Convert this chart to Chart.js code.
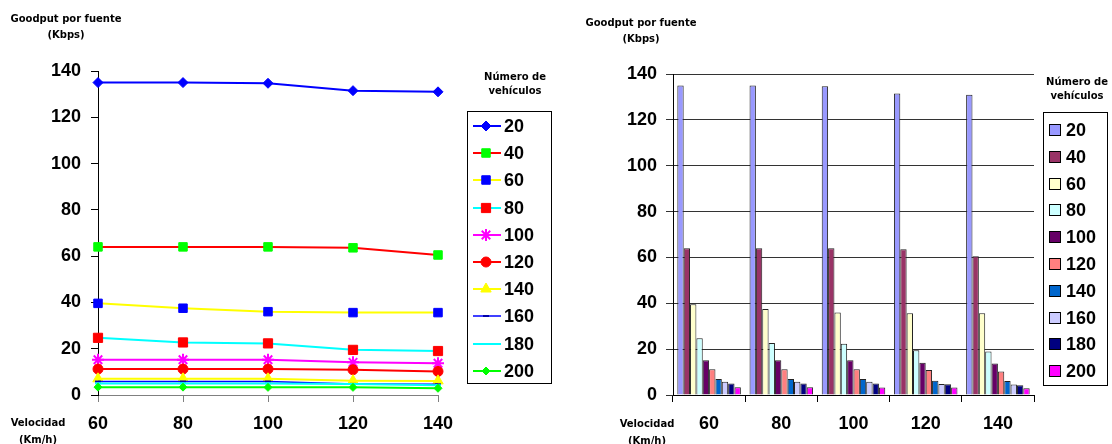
<!DOCTYPE html>
<html>
<head>
<meta charset="utf-8">
<title>Goodput por fuente</title>
<script src="https://cdn.jsdelivr.net/npm/chart.js"></script>
<style>
  body { margin: 0; background: #fff; }
  #wrap { position: relative; width: 1112px; height: 444px; overflow: hidden; }
  canvas { position: absolute; top: 0; }
  .lbl { position: absolute; width: 160px; text-align: center; color: #000;
         font: bold 10px "DejaVu Sans", Verdana, sans-serif; white-space: nowrap; }
</style>
</head>
<body>
<div id="wrap">
  <canvas id="lineChart" width="556" height="444" style="left:0"></canvas>
  <canvas id="barChart" width="556" height="444" style="left:556px"></canvas>

  <div class="lbl" style="left:-14px;top:11px;line-height:16px">Goodput por fuente<br>(Kbps)</div>
  <div class="lbl" style="left:435px;top:70px;line-height:14px">Número de<br>vehículos</div>
  <div class="lbl" style="left:-42px;top:414px;line-height:17px">Velocidad<br>(Km/h)</div>

  <div class="lbl" style="left:561px;top:15px;line-height:16px">Goodput por fuente<br>(Kbps)</div>
  <div class="lbl" style="left:997px;top:75px;line-height:14px">Número de<br>vehículos</div>
  <div class="lbl" style="left:567px;top:415px;line-height:17px">Velocidad<br>(Km/h)</div>
</div>

<script>
  // velocidad (Km/h) on the x axis, one series per number of vehicles
  const velocidades = ["60", "80", "100", "120", "140"];
  const vehiculos = ["20", "40", "60", "80", "100", "120", "140", "160", "180", "200"];

  // goodput per source (Kbps)
  const g20  = [135, 135, 134.7, 131.5, 131];
  const g40  = [64, 64, 64, 63.6, 60.5];
  const g60  = [39.6, 37.5, 36, 35.6, 35.6];
  const g80  = [24.7, 22.7, 22.3, 19.5, 19];
  const g100 = [15.2, 15.2, 15.2, 14.1, 13.7];
  const g120 = [11.2, 11.2, 11.2, 10.9, 10.2];
  const g140 = [7, 7, 7, 6.2, 6.1];
  const g160 = [5.8, 5.8, 5.8, 4.8, 4.6];
  const g180 = [5, 5, 5, 4.7, 4.2];
  const g200 = [3.4, 3.4, 3.3, 3.3, 2.9];
  const series = [g20, g40, g60, g80, g100, g120, g140, g160, g180, g200];

  const tickFont = { family: "'Liberation Sans', Arial, sans-serif", size: 18, weight: "bold" };

  // excel-ish line styles: line colour and marker colour differ
  const lineStyles = [
    { line: "#0000FF", w: 2, point: "rectRot", r: 5, fill: "#0000FF" },
    { line: "#FF0000", w: 2, point: "rect", r: 6, fill: "#00FF00" },
    { line: "#FFFF00", w: 2, point: "rect", r: 6, fill: "#0000FF" },
    { line: "#00FFFF", w: 2, point: "rect", r: 6.5, fill: "#FF0000" },
    { line: "#FF00FF", w: 2, point: "star", r: 6, fill: "#FF00FF" },
    { line: "#FF0000", w: 2, point: "circle", r: 5, fill: "#FF0000" },
    { line: "#FFFF00", w: 2, point: "triangle", r: 6, fill: "#FFFF00" },
    { line: "#0000FF", w: 1.5, point: "line", r: 3, fill: "#0000AA" },
    { line: "#00FFFF", w: 2, point: "line", r: 3, fill: "#00FFFF" },
    { line: "#00FF00", w: 2, point: "rectRot", r: 4, fill: "#00FF00" },
  ];

  const barColors = ["#9999FF", "#993366", "#FFFFCC", "#CCFFFF", "#660066",
                     "#FF8080", "#0066CC", "#CCCCFF", "#000080", "#FF00FF"];

  // legend drawn inside a framed box, like the original
  const boxLegend = {
    id: "boxLegend",
    afterDraw(chart, args, opts) {
      const ctx = chart.ctx;
      ctx.save();
      ctx.strokeStyle = "#000";
      ctx.lineWidth = 1;
      ctx.strokeRect(opts.x + 0.5, opts.y + 0.5, opts.w, opts.h);
      ctx.font = "bold 18px 'Liberation Sans', Arial, sans-serif";
      ctx.textBaseline = "middle";
      ctx.textAlign = "left";
      chart.data.datasets.forEach((ds, i) => {
        const y = Math.round(opts.itemY + i * opts.step);
        if (opts.kind === "line") {
          ctx.strokeStyle = ds.borderColor;
          ctx.lineWidth = ds.borderWidth;
          ctx.beginPath();
          ctx.moveTo(opts.x + 6, y);
          ctx.lineTo(opts.x + 34, y);
          ctx.stroke();
          ctx.fillStyle = ds.pointBackgroundColor;
          ctx.strokeStyle = ds.pointBorderColor;
          ctx.lineWidth = ds.pointBorderWidth;
          Chart.helpers.drawPoint(ctx, {
            pointStyle: ds.pointStyle, rotation: 0,
            radius: ds.pointRadius, borderWidth: ds.pointBorderWidth
          }, opts.x + 19, y);
        } else {
          ctx.fillStyle = ds.backgroundColor;
          ctx.fillRect(opts.x + 6, y - 6, 12, 12);
          ctx.strokeStyle = "#000";
          ctx.lineWidth = 1;
          ctx.strokeRect(opts.x + 6.5, y - 5.5, 11, 11);
        }
        ctx.fillStyle = "#000";
        ctx.fillText(ds.label, opts.x + opts.textX, y + 1);
      });
      ctx.restore();
    }
  };

  new Chart(document.getElementById("lineChart"), {
    type: "line",
    data: {
      labels: velocidades,
      datasets: vehiculos.map((v, i) => {
        const s = lineStyles[i];
        return {
          label: v,
          data: series[i],
          borderColor: s.line,
          borderWidth: s.w,
          pointStyle: s.point,
          pointRadius: s.r,
          pointBackgroundColor: s.fill,
          pointBorderColor: s.fill,
          pointBorderWidth: s.point === "star" || s.point === "line" ? 2 : 1,
          tension: 0,
          order: -i,
        };
      }),
    },
    options: {
      responsive: false,
      animation: false,
      layout: { padding: { left: 0, right: 118, top: 71, bottom: 0 } },
      plugins: {
        legend: { display: false },
        tooltip: { enabled: false },
        boxLegend: { kind: "line", x: 467, y: 111, w: 84, h: 272, itemY: 126, step: 27.2, textX: 37 },
      },
      scales: {
        x: {
          offset: false,
          grid: { drawOnChartArea: false, tickLength: 7, color: "#808080" },
          border: { color: "#808080" },
          ticks: { font: tickFont, color: "#000", padding: 11, maxRotation: 0 },
          afterFit(scale) { scale.height = 49; },
        },
        y: {
          min: 0,
          max: 140,
          ticks: { stepSize: 20, font: tickFont, color: "#000", padding: 10 },
          grid: { drawOnChartArea: false, tickLength: 7, color: "#000" },
          border: { color: "#000" },
          afterFit(scale) { scale.width = 98; },
        },
      },
    },
    plugins: [boxLegend],
  });

  new Chart(document.getElementById("barChart"), {
    type: "bar",
    data: {
      labels: velocidades,
      datasets: vehiculos.map((v, i) => ({
        label: v,
        data: series[i],
        backgroundColor: barColors[i],
        borderColor: "#222",
        borderWidth: 1,
        categoryPercentage: 0.88,
        barPercentage: 1,
      })),
    },
    options: {
      responsive: false,
      animation: false,
      layout: { padding: { left: 0, right: 78, top: 74, bottom: 0 } },
      plugins: {
        legend: { display: false },
        tooltip: { enabled: false },
        boxLegend: { kind: "bar", x: 487, y: 112, w: 64, h: 273, itemY: 130, step: 26.8, textX: 23 },
      },
      scales: {
        x: {
          grid: { offset: true, drawOnChartArea: false, tickLength: 7, color: "#000" },
          border: { color: "#000" },
          ticks: { font: tickFont, color: "#000", padding: 11, maxRotation: 0 },
          afterFit(scale) { scale.height = 49; },
        },
        y: {
          min: 0,
          max: 140,
          ticks: { stepSize: 20, font: tickFont, color: "#000", padding: 9 },
          grid: { color: "#333", tickLength: 7 },
          border: { color: "#000" },
          afterFit(scale) { scale.width = 117; },
        },
      },
    },
    plugins: [boxLegend],
  });
</script>
</body>
</html>
